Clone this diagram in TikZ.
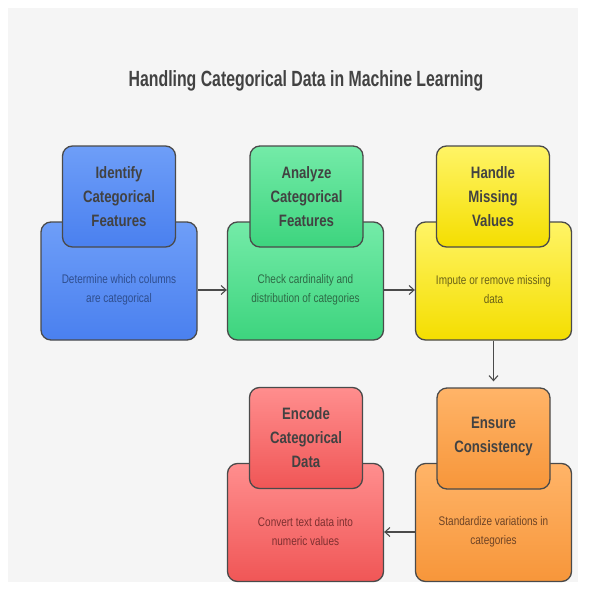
\documentclass[tikz,border=0pt]{standalone}
\usepackage{fontspec}
\setmainfont{Liberation Sans}[FakeStretch=0.8]
\newfontfamily\titlefont{Liberation Sans}[FakeStretch=0.72]
\usetikzlibrary{arrows.meta}
\definecolor{bgc}{HTML}{F5F5F5}
\definecolor{edge}{HTML}{4A4A4A}
\definecolor{ttl}{HTML}{424242}
\definecolor{blueT}{HTML}{6E9EF8}\definecolor{blueB}{HTML}{4A80EF}\definecolor{blueX}{HTML}{2F4E8E}
\definecolor{greenT}{HTML}{74EBA8}\definecolor{greenB}{HTML}{3DD47E}\definecolor{greenX}{HTML}{2E6A46}
\definecolor{yelT}{HTML}{FFF466}\definecolor{yelB}{HTML}{F4DE00}\definecolor{yelX}{HTML}{6A6218}
\definecolor{redT}{HTML}{FF8E8E}\definecolor{redB}{HTML}{F05656}\definecolor{redX}{HTML}{7E3030}
\definecolor{orT}{HTML}{FFB468}\definecolor{orB}{HTML}{F7963A}\definecolor{orX}{HTML}{6E4426}
\tikzset{
  bigbox/.style={draw=edge, line width=1.3pt, rounded corners=10pt, minimum width=156pt, minimum height=118pt, inner sep=0pt, shading=axis, shading angle=0},
  topbox/.style={draw=edge, line width=1.3pt, rounded corners=10pt, minimum width=113pt, minimum height=101pt, inner sep=0pt, shading=axis, shading angle=0},
  toptext/.style={text=ttl, font=\fontsize{16.5}{24}\selectfont\bfseries, align=center},
  bodytext/.style={font=\fontsize{12.5}{19}\selectfont, align=center},
  arr/.style={draw=edge, line width=1.1pt, -{Straight Barb[length=5pt,width=9pt]}},
}
\begin{document}
\begin{tikzpicture}[x=1pt,y=-1pt]
\useasboundingbox (0,0) rectangle (590,590);
\fill[white] (0,0) rectangle (590,590);
\fill[bgc] (8,8) rectangle (578,582);
\node[text=ttl, font=\titlefont\fontsize{22}{28}\selectfont\bfseries] (title) at (306,81) {Handling Categorical Data in Machine Learning};
% row 1
\node[bigbox, top color=blueT, bottom color=blueB] (b1) at (119,281) {};
\node[topbox, top color=blueT, bottom color=blueB] (t1) at (119,196.5) {};
\node[toptext] (h1) at (t1) {Identify\\Categorical\\Features};
\node[bodytext, text=blueX] (d1) at (119,290) {Determine which columns\\are categorical};
\node[bigbox, top color=greenT, bottom color=greenB] (b2) at (305.5,281) {};
\node[topbox, top color=greenT, bottom color=greenB] (t2) at (306.5,196.5) {};
\node[toptext] (h2) at (t2) {Analyze\\Categorical\\Features};
\node[bodytext, text=greenX] (d2) at (305.5,290) {Check cardinality and\\distribution of categories};
\node[bigbox, top color=yelT, bottom color=yelB] (b3) at (493.5,281) {};
\node[topbox, top color=yelT, bottom color=yelB] (t3) at (493,196.5) {};
\node[toptext] (h3) at (t3) {Handle\\Missing\\Values};
\node[bodytext, text=yelX] (d3) at (493.5,290) {Impute or remove missing\\data};
% row 2
\node[bigbox, top color=orT, bottom color=orB] (b5) at (493.5,522.5) {};
\node[topbox, top color=orT, bottom color=orB] (t5) at (493.5,438.5) {};
\node[toptext] (h5) at ([yshift=2pt]t5.center) {Ensure\\Consistency};
\node[bodytext, text=orX] (d5) at (493.5,532) {Standardize variations in\\categories};
\node[bigbox, top color=redT, bottom color=redB] (b4) at (305.5,522.5) {};
\node[topbox, top color=redT, bottom color=redB] (t4) at (306,438) {};
\node[toptext] (h4) at (t4) {Encode\\Categorical\\Data};
\node[bodytext, text=redX] (d4) at (305.5,532) {Convert text data into\\numeric values};
% connectors
\draw[arr] (b1.east |- d1) -- (b2.west |- d1);
\draw[arr] (b2.east |- d2) -- (b3.west |- d2);
\draw[arr, shorten >=6pt] (b3.south) -- (t5.north);
\draw[arr] (b5.west |- d5) -- (b4.east |- d5);
\end{tikzpicture}
\end{document}
